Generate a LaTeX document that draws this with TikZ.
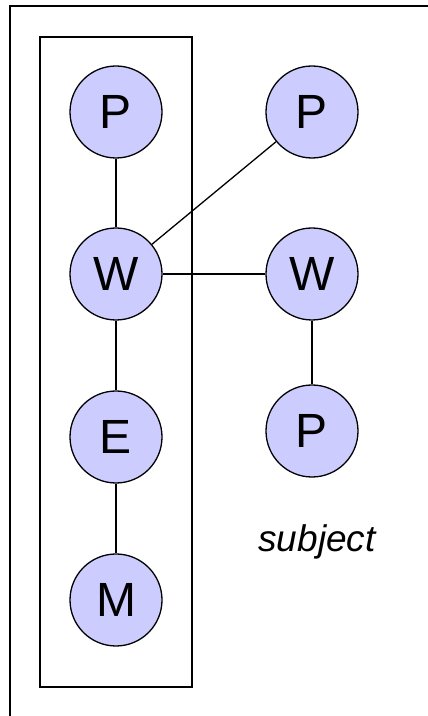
\documentclass[tikz,border=0pt]{standalone}
\usepackage{fontspec}
\setmainfont{Liberation Sans}
\definecolor{nodefill}{RGB}{204,204,255}
\begin{document}
\begin{tikzpicture}[line width=1.3bp,
  ent/.style={draw,circle,fill=nodefill,minimum size=92bp,inner sep=0pt,font=\fontsize{48bp}{50bp}\selectfont}]
  \clip (0bp,0bp) rectangle (428bp,716bp);
  \draw [line width=1.8bp] (10bp,-20bp) rectangle (450bp,710bp);
  \node (Box) at (116bp,354bp) [draw,rectangle,minimum width=152bp,minimum height=650bp,inner sep=0pt] {};
  \node (P1) at (116bp,604bp) [ent] {P};
  \node (P2) at (312bp,604bp) [ent] {P};
  \node (W1) at (116bp,442bp) [ent] {W};
  \node (W2) at (312bp,442bp) [ent] {W};
  \node (E1) at (116bp,279bp) [ent] {E};
  \node (P3) at (312bp,285bp) [ent] {P};
  \node (M1) at (116bp,116bp) [ent] {M};
  \node (Subj) at (317bp,164bp) [anchor=base,font=\fontsize{37bp}{40bp}\selectfont\itshape] {subject};
  \draw (P1) -- (W1);
  \draw (W1) -- (P2);
  \draw (W1) -- (W2);
  \draw (W1) -- (E1);
  \draw (E1) -- (M1);
  \draw (W2) -- (P3);
\end{tikzpicture}
\end{document}
